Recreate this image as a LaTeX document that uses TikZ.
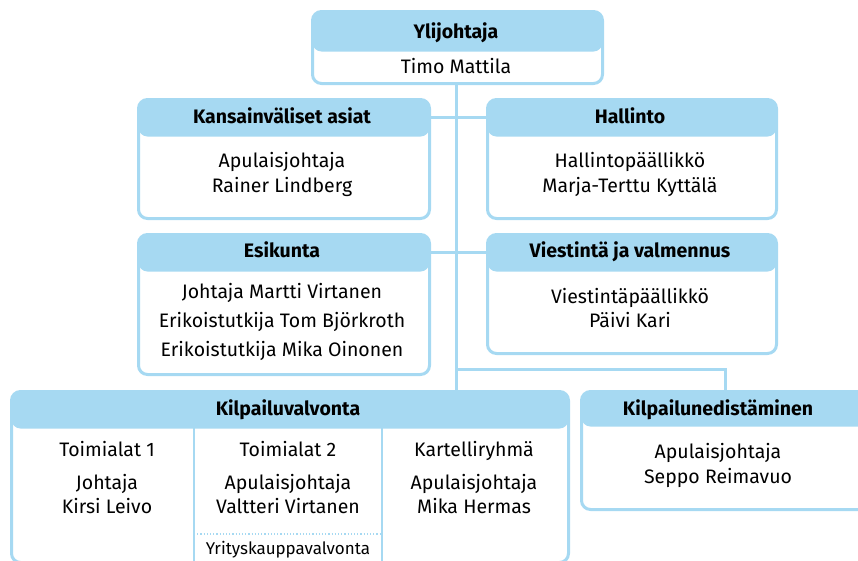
\documentclass[tikz,border=0pt]{standalone}
\usepackage{fontspec}
\setmainfont{Fira Sans}
\definecolor{hdr}{RGB}{166,217,242}
\begin{document}
\begin{tikzpicture}[x=1pt,y=-1pt,
  box/.style={draw=hdr, line width=3pt, rounded corners=9pt, fill=white,
    inner sep=0pt, anchor=north west},
  hdrfill/.style={path picture={\fill[hdr] (path picture bounding box.north west)
    rectangle ([yshift=-#1]path picture bounding box.north east);}},
  conn/.style={draw=hdr, line width=3pt},
  divider/.style={draw=hdr, line width=1.6pt},
  ttl/.style={font=\fontsize{19.5}{22}\selectfont\bfseries, anchor=base, inner sep=0pt},
  txt/.style={font=\fontsize{19.5}{22}\selectfont, anchor=base, inner sep=0pt},
  small/.style={font=\fontsize{17}{19}\selectfont, anchor=base, inner sep=0pt}
]
\useasboundingbox (0,0) rectangle (858,560);

% connectors
\coordinate (br) at (456,369);
\draw[conn] (456,83) -- (456,390);
\draw[conn] (br) -- (725,369) -- (725,390);
\draw[conn] (428,117) -- (486,117);
\draw[conn] (428,252) -- (486,252);

% boxes
\node[box, hdrfill=40pt, minimum width=290pt, minimum height=72pt] (top) at (311,10) {};
\node[box, hdrfill=37pt, minimum width=291pt, minimum height=119pt] (kv) at (137,98) {};
\node[box, hdrfill=37pt, minimum width=289pt, minimum height=119pt] (hal) at (486,98) {};
\node[box, hdrfill=37pt, minimum width=291pt, minimum height=140pt] (esi) at (137,233) {};
\node[box, hdrfill=37pt, minimum width=289pt, minimum height=119pt] (vie) at (486,233) {};
\node[box, hdrfill=37pt, minimum width=557pt, minimum height=171pt] (kil) at (10,390) {};
\node[box, hdrfill=35pt, minimum width=300pt, minimum height=118pt] (ked) at (580,390) {};

% inner dividers
\draw[divider] (194,427) -- (194,562);
\draw[divider] (382,427) -- (382,562);
\draw[hdr, line width=1.2pt, dotted] (194,534) -- (382,534);

% texts
\node[ttl] (t1) at (456,38.5) {Ylijohtaja};
\node[txt] (t2) at (456,73.5) {Timo Mattila};

\node[ttl] (k1) at (282,123.5) {Kansainväliset asiat};
\node[txt] (k2) at (282,167.5) {Apulaisjohtaja};
\node[txt] (k3) at (282,192.5) {Rainer Lindberg};

\node[ttl] (h1) at (630,123.5) {Hallinto};
\node[txt] (h2) at (630,167.5) {Hallintopäällikkö};
\node[txt] (h3) at (630,192.5) {Marja-Terttu Kyttälä};

\node[ttl] (e1) at (282,257.5) {Esikunta};
\node[txt] (e2) at (282,298.5) {Johtaja Martti Virtanen};
\node[txt] (e3) at (282,327.5) {Erikoistutkija Tom Björkroth};
\node[txt] (e4) at (282,356.5) {Erikoistutkija Mika Oinonen};

\node[ttl] (v1) at (630,257.5) {Viestintä ja valmennus};
\node[txt] (v2) at (630,303.5) {Viestintäpäällikkö};
\node[txt] (v3) at (630,327.5) {Päivi Kari};

\node[ttl] (kv1) at (288,415.5) {Kilpailuvalvonta};
\node[txt] (c11) at (107,456.5) {Toimialat 1};
\node[txt] (c12) at (107,489.5) {Johtaja};
\node[txt] (c13) at (107,513.5) {Kirsi Leivo};
\node[txt] (c21) at (288,456.5) {Toimialat 2};
\node[txt] (c22) at (288,489.5) {Apulaisjohtaja};
\node[txt] (c23) at (288,513.5) {Valtteri Virtanen};
\node[txt] (c31) at (474,456.5) {Kartelliryhmä};
\node[txt] (c32) at (474,489.5) {Apulaisjohtaja};
\node[txt] (c33) at (474,513.5) {Mika Hermas};
\node[small] (yk) at (288,554) {Yrityskauppavalvonta};

\node[ttl] (n1) at (718,415.5) {Kilpailunedistäminen};
\node[txt] (n2) at (718,458.5) {Apulaisjohtaja};
\node[txt] (n3) at (718,483.5) {Seppo Reimavuo};
\end{tikzpicture}
\end{document}
